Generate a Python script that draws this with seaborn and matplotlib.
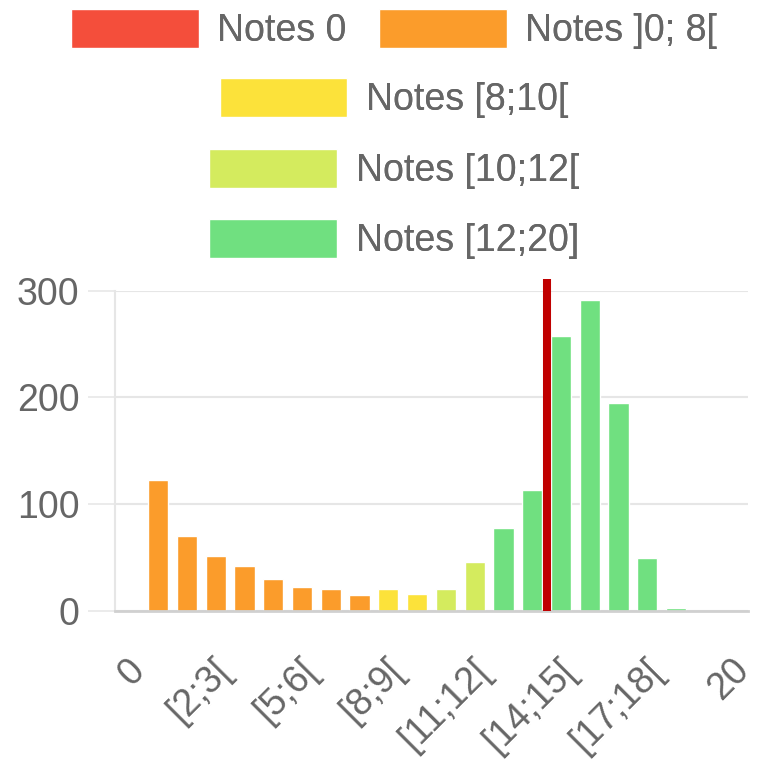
import matplotlib
matplotlib.use("Agg")
import matplotlib.pyplot as plt
import matplotlib.transforms as mtransforms
import seaborn as sns
import pandas as pd

# categories on the x axis (grade bins)
classes = ["0", "]0;1[", "[1;2[", "[2;3[", "[3;4[", "[4;5[", "[5;6[", "[6;7[",
           "[7;8[", "[8;9[", "[9;10[", "[10;11[", "[11;12[", "[12;13[",
           "[13;14[", "[14;15[", "[15;16[", "[16;17[", "[17;18[", "[18;19[",
           "[19;20[", "20"]
effectifs = [0, 123, 70, 51, 42, 30, 22, 20, 15, 20, 16, 20, 46, 78, 113,
             258, 291, 195, 49, 3, 0, 0]
groupes = ["Notes 0"] + ["Notes ]0; 8["] * 8 + ["Notes [8;10["] * 2 \
    + ["Notes [10;12["] * 2 + ["Notes [12;20]"] * 9
legend_rows = [["Notes 0", "Notes ]0; 8["], ["Notes [8;10["],
               ["Notes [10;12["], ["Notes [12;20]"]]
couleurs = {"Notes 0": "#F44E3B", "Notes ]0; 8[": "#FB9C2B",
            "Notes [8;10[": "#FCE23A", "Notes [10;12[": "#D4EB5E",
            "Notes [12;20]": "#70E080"}
moyenne_pos = 14.5   # position of the red marker, in category units
yticks = [0, 100, 200, 300]

df = pd.DataFrame({"classe": classes, "effectif": effectifs, "groupe": groupes})

sns.set_style("white")
plt.rcParams["font.family"] = ["Liberation Sans", "DejaVu Sans"]
txt = "#666666"
grid = "#e6e6e6"
fs = 27

fig = plt.figure(figsize=(7.58, 7.63), dpi=100)
ax = fig.add_axes([115 / 758, 1 - 610.7 / 763, 633 / 758, 320 / 763])

sns.barplot(data=df, x="classe", y="effectif", hue="groupe", order=classes,
            hue_order=list(couleurs), palette=couleurs, dodge=False,
            width=0.7, saturation=1, ax=ax)
handles, labels = ax.get_legend_handles_labels()
ax.get_legend().remove()

ax.axvline(moyenne_pos, ymin=0, ymax=1.037, color="#C00000", lw=5.8,
           solid_capstyle="butt", clip_on=False, zorder=5)

ax.set_ylim(0, 300)
ax.set_xlim(-0.5, len(classes) - 0.5)
ax.set_yticks(yticks)
ax.set_yticklabels([str(v) for v in yticks], fontsize=fs, color=txt)
ax.yaxis.grid(True, color=grid, lw=1.5)
ax.set_axisbelow(True)
ax.tick_params(axis="y", length=19.5, width=1.1, color=grid, pad=6, left=True)

xt = list(range(0, len(classes), 3))
ax.set_xticks(xt)
ax.set_xticklabels([classes[i] for i in xt], fontsize=fs, color=txt,
                   rotation=45, ha="right", va="center", rotation_mode="anchor")
ax.tick_params(axis="x", length=0, pad=39)
shift = mtransforms.ScaledTranslation(10 / 100, 0, fig.dpi_scale_trans)
for lab in ax.get_xticklabels():
    lab.set_transform(lab.get_transform() + shift)

ax.set_xlabel("")
ax.set_ylabel("")
for s in ["top", "right"]:
    ax.spines[s].set_visible(False)
ax.spines["left"].set_color(grid)
ax.spines["left"].set_linewidth(1.5)
ax.spines["bottom"].set_color("#d0d0d0")
ax.spines["bottom"].set_linewidth(2)

# chart.js-like legend: centred rows
hmap = dict(zip(labels, handles))
row_y = [1 - 29 / 763, 1 - 98 / 763, 1 - 169 / 763, 1 - 239 / 763]
for row, yy in zip(legend_rows, row_y):
    lg = fig.legend([hmap[n] for n in row], row, loc="center",
                    bbox_to_anchor=(394 / 758, yy), ncol=len(row), frameon=False,
                    fontsize=fs, handlelength=3.41, handleheight=1.22,
                    handletextpad=0.5, columnspacing=0.85, borderpad=0,
                    borderaxespad=0)
    for t in lg.get_texts():
        t.set_color(txt)
    fig.add_artist(lg)

fig.savefig("out.png", dpi=100)
